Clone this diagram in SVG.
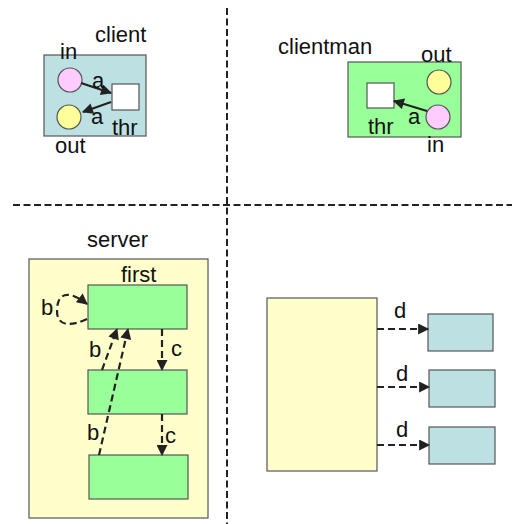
<svg xmlns="http://www.w3.org/2000/svg" width="512" height="524" viewBox="0 0 512 524">
  <style>
    text { font-family: "Liberation Sans", Arial, Helvetica, sans-serif; font-size: 22px; fill: #111; }
    .box { stroke: #555; stroke-width: 1.2; }
    .blue { fill: #bde0e3; }
    .green { fill: #99ff99; }
    .cream { fill: #ffffcc; }
    .white { fill: #ffffff; }
    .pink { fill: #ffccff; stroke: #555; stroke-width: 1.2; }
    .yellow { fill: #ffff99; stroke: #555; stroke-width: 1.2; }
    .divider { stroke: #222; stroke-width: 2; stroke-dasharray: 7 3.5; fill: none; }
    .solid { stroke: #222; stroke-width: 2.2; fill: none; marker-end: url(#head); }
    .dashed { stroke: #222; stroke-width: 2.2; fill: none; stroke-dasharray: 7 4; marker-end: url(#head); }
  </style>
  <defs>
    <marker id="head" viewBox="0 0 10 10" refX="9" refY="5" markerWidth="5.5" markerHeight="5" orient="auto" markerUnits="strokeWidth">
      <path d="M0,0 L10,5 L0,10 z" fill="#222"/>
    </marker>
  </defs>

  <!-- quadrant dividers -->
  <g id="dividers">
    <line class="divider" x1="227" y1="8" x2="227" y2="524"/>
    <line class="divider" x1="13" y1="205" x2="512" y2="205"/>
  </g>

  <!-- client -->
  <g id="client">
    <text x="95" y="42">client</text>
    <rect class="box blue" x="44" y="55" width="102" height="81"/>
    <text x="60" y="59">in</text>
    <text x="55" y="153">out</text>
    <circle id="client-in" class="pink" cx="70" cy="80" r="12"/>
    <circle id="client-out" class="yellow" cx="69" cy="117" r="12"/>
    <rect id="client-thr" class="box white" x="112" y="84" width="27" height="26"/>
    <text x="112" y="135">thr</text>
  </g>

  <!-- clientman -->
  <g id="clientman">
    <text x="278" y="54">clientman</text>
    <rect class="box green" x="348" y="62" width="113" height="75"/>
    <text x="421" y="62">out</text>
    <text x="427" y="152">in</text>
    <circle id="clientman-out" class="yellow" cx="439" cy="82" r="12"/>
    <circle id="clientman-in" class="pink" cx="438" cy="117" r="12"/>
    <rect id="clientman-thr" class="box white" x="367" y="83" width="27" height="25"/>
    <text x="368" y="134">thr</text>
  </g>

  <!-- server -->
  <g id="server">
    <text x="87" y="247">server</text>
    <rect class="box cream" x="29" y="259" width="179" height="259"/>
  </g>
  <g id="first">
    <text x="121" y="282">first</text>
    <rect class="box green" x="88" y="285" width="99" height="44"/>
  </g>
  <g id="worker1">
    <rect class="box green" x="88" y="370" width="99" height="44"/>
  </g>
  <g id="worker2">
    <rect class="box green" x="89" y="455" width="99" height="44"/>
  </g>

  <!-- dispatcher and targets -->
  <g id="dispatcher">
    <rect class="box cream" x="267" y="298" width="110" height="173"/>
  </g>
  <g id="target1">
    <rect class="box blue" x="428" y="314" width="65" height="37"/>
  </g>
  <g id="target2">
    <rect class="box blue" x="429" y="370" width="66" height="37"/>
  </g>
  <g id="target3">
    <rect class="box blue" x="429" y="427" width="66" height="37"/>
  </g>

  <!-- connectors -->
  <g id="connectors">
    <line class="solid" x1="81" y1="83" x2="111" y2="93"/>
    <text x="92" y="88">a</text>
    <line class="solid" x1="111" y1="102" x2="83" y2="112"/>
    <text x="91" y="124">a</text>

    <line class="solid" x1="427" y1="111" x2="394" y2="101"/>
    <text x="408" y="124">a</text>

    <path class="dashed" d="M87 319 C72 326 56 328 57 309 C58 290 72 292 87 304"/>
    <text x="41" y="315">b</text>

    <line class="dashed" x1="102" y1="370" x2="117" y2="329"/>
    <text x="89" y="357">b</text>
    <line class="dashed" x1="99" y1="455" x2="128" y2="329"/>
    <text x="87" y="440">b</text>

    <line class="dashed" x1="162" y1="329" x2="162" y2="370"/>
    <text x="171" y="356">c</text>
    <line class="dashed" x1="162" y1="414" x2="162" y2="455"/>
    <text x="165" y="443">c</text>

    <line class="dashed" x1="377" y1="329" x2="428" y2="329"/>
    <text x="394" y="318">d</text>
    <line class="dashed" x1="377" y1="387" x2="429" y2="387"/>
    <text x="396" y="381">d</text>
    <line class="dashed" x1="377" y1="445" x2="429" y2="445"/>
    <text x="396" y="437">d</text>
  </g>
</svg>
